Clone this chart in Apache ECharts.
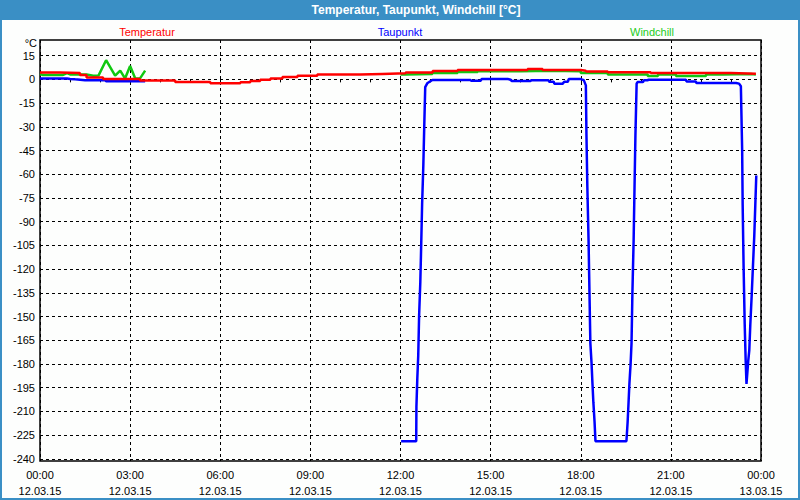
<!DOCTYPE html>
<html>
<head>
<meta charset="utf-8">
<script src="https://cdn.jsdelivr.net/npm/echarts@6/dist/echarts.min.js"></script>
<style>
html,body{margin:0;padding:0;background:#fdfefd;}
#c{width:800px;height:500px;}
</style>
</head>
<body>
<div id="c"></div>
<script>
// ---- text ----
const chartTitle = 'Temperatur, Taupunkt, Windchill [°C]';
const seriesNames = ['Temperatur', 'Taupunkt', 'Windchill'];
const unitLabel = '°C';
const xTickLabels = ['00:00\n12.03.15','03:00\n12.03.15','06:00\n12.03.15','09:00\n12.03.15','12:00\n12.03.15','15:00\n12.03.15','18:00\n12.03.15','21:00\n12.03.15','00:00\n13.03.15'];
const yTickValues = [15,0,-15,-30,-45,-60,-75,-90,-105,-120,-135,-150,-165,-180,-195,-210,-225,-240];

// ---- Temperatur (stepped) : hours since 00:00, °C ----
const tempHours  = [0,0.67,1.33,1.55,2.1,3.33,4.5,5.67,6.67,7.0,7.33,7.67,8.07,8.57,9.23,10.67,11.4,12.17,13.07,13.9,16.23,16.73,18.0,18.17,18.9,20.33,23.0,23.83];
const tempValues = [4.3,4.0,2.7,1.2,0.3,-0.7,-1.7,-2.4,-1.9,-1.1,-0.2,0.6,1.5,2.3,3.0,3.4,3.8,4.4,5.3,5.9,6.5,5.9,5.5,5.0,4.5,4.0,3.6,3.6];

// ---- Taupunkt ----
const dewEarlyHours  = [0,0.9,1.0,1.17,1.5,2.17,2.2,3.5];
const dewEarlyValues = [0.6,0.6,0.3,0.0,-0.5,-0.5,-1.2,-1.2];
const dewLateHours  = [12.02,12.523,12.53,12.56,12.59,12.62,12.66,12.69,12.72,12.76,12.79,12.823,12.89,13.06,14.33,14.35,14.67,14.7,15.57,15.67,15.7,16.33,16.35,16.93,16.95,17.1,17.12,17.4,17.45,17.57,17.6,18.0,18.1,18.17,18.19,18.22,18.26,18.29,18.32,18.36,18.39,18.42,18.46,18.49,19.52,19.56,19.59,19.62,19.66,19.69,19.72,19.76,19.79,19.82,19.86,19.89,20.07,20.1,20.23,20.25,21.5,21.52,21.83,21.85,23.17,23.27,23.33,23.373,23.39,23.42,23.457,23.49,23.517,23.533,23.577,23.61,23.643,23.69,23.733,23.777,23.81,23.843];
const dewLateValues = [-228.9,-228.9,-207,-189,-175,-149,-128,-104,-78.5,-54.4,-30.2,-4.9,-2.5,-0.4,-0.4,-0.8,-0.8,0.2,0.2,-0.2,-1.1,-1.1,-0.6,-0.6,-1.5,-1.5,-2.7,-2.7,-1.5,-1.5,0.2,0.2,-0.5,-3.8,-35.4,-68.2,-101.9,-134.6,-167,-179.7,-192.4,-204.2,-216.9,-228.9,-228.9,-216.9,-204.9,-192.4,-179.7,-167,-134.6,-101.9,-68.2,-35.4,-2.7,-1.7,-1.7,-0.6,-0.6,-0.2,-0.2,-1.3,-1.3,-2.3,-2.3,-2.7,-4.4,-44.9,-79.7,-117.7,-154.6,-177.8,-192.6,-192.6,-177.8,-171.5,-155.7,-136.7,-117.7,-98.7,-79.7,-60.8];

// ---- Windchill ----
const chillEarlyHours  = [0,0.1,0.75,0.9,1.0,1.55,1.77,1.95,2.2,2.5,2.67,2.83,3.0,3.17,3.33,3.5];
const chillEarlyValues = [3.5,2.7,2.7,3.9,3.1,3.1,2.3,2.5,12.1,2.3,5.5,0.6,8.4,0.6,0.6,5.5];
const chillLateHours  = [12.0,12.17,13.06,13.9,14.57,16.0,17.0,18.0,18.9,20.23,20.57,21.17,22.17,22.73,23.67,23.83];
const chillLateValues = [3.0,3.4,4.0,4.6,5.1,5.5,5.1,4.0,3.0,2.1,3.0,2.1,3.0,3.4,3.0,3.0];

const FONT = 'Liberation Sans';
const RED = '#ff0000', BLUE = '#0000ff', GREEN = '#10c810';

function pairs(h, v) { return h.map((x, i) => [x, v[i]]); }
function lineSeries(name, data, color, step, z) {
  return {
    name: name, type: 'line', data: data, step: step || false,
    showSymbol: false, symbol: 'none', z: z,
    lineStyle: { color: color, width: 2.5 }, itemStyle: { color: color },
    animation: false, clip: true
  };
}

const chart = echarts.init(document.getElementById('c'), null, { renderer: 'svg' });
chart.setOption({
  backgroundColor: '#fdfefd',
  animation: false,
  grid: { left: 40, right: 39, top: 40, bottom: 39, show: true, borderColor: '#000', borderWidth: 1.5, backgroundColor: 'transparent' },
  xAxis: {
    type: 'value', min: 0, max: 24, interval: 3,
    axisLine: { show: false },
    axisTick: { show: true, length: 4, lineStyle: { color: '#000' } },
    minorTick: { show: true, splitNumber: 3, length: 3, lineStyle: { color: '#000' } },
    splitLine: { show: true, lineStyle: { color: '#000', type: [3, 3], width: 1 } },
    axisLabel: {
      formatter: v => xTickLabels[Math.round(v / 3)],
      fontFamily: FONT, fontSize: 11, color: '#000', lineHeight: 16, margin: 6
    }
  },
  yAxis: {
    type: 'value', min: -241.4, max: 24.9,
    axisLine: { show: false },
    axisTick: { show: false, customValues: yTickValues },
    axisLabel: { customValues: yTickValues, fontFamily: FONT, fontSize: 11, color: '#000', margin: 5 },
    splitLine: { show: true, lineStyle: { color: '#000', type: [3, 3], width: 1 } }
  },
  graphic: [
    { type: 'rect', shape: { x: 0, y: 0, width: 800, height: 20 }, style: { fill: '#3a8fc5' }, silent: true },
    { type: 'rect', shape: { x: 0, y: 0, width: 2, height: 500 }, style: { fill: '#3a8fc5' }, silent: true },
    { type: 'rect', shape: { x: 798, y: 0, width: 2, height: 500 }, style: { fill: '#3a8fc5' }, silent: true },
    { type: 'rect', shape: { x: 0, y: 498, width: 800, height: 2 }, style: { fill: '#3a8fc5' }, silent: true },
    { type: 'text', x: 416, y: 10, style: { text: chartTitle, fill: '#ffffff', font: 'bold 12px "' + FONT + '"', textAlign: 'center', textVerticalAlign: 'middle' } },
    { type: 'text', x: 147, y: 32, style: { text: seriesNames[0], fill: RED, font: '11px "' + FONT + '"', textAlign: 'center', textVerticalAlign: 'middle' } },
    { type: 'text', x: 400, y: 32, style: { text: seriesNames[1], fill: BLUE, font: '11px "' + FONT + '"', textAlign: 'center', textVerticalAlign: 'middle' } },
    { type: 'text', x: 652, y: 32, style: { text: seriesNames[2], fill: '#22cc22', font: '11px "' + FONT + '"', textAlign: 'center', textVerticalAlign: 'middle' } },
    { type: 'text', x: 37, y: 43, style: { text: unitLabel, fill: '#000', font: '11px "' + FONT + '"', textAlign: 'right', textVerticalAlign: 'middle' } }
  ],
  series: [
    lineSeries(seriesNames[1], pairs(dewEarlyHours, dewEarlyValues), BLUE, false, 2),
    lineSeries(seriesNames[1], pairs(dewLateHours, dewLateValues), BLUE, false, 2),
    lineSeries(seriesNames[2], pairs(chillEarlyHours, chillEarlyValues), GREEN, false, 3),
    lineSeries(seriesNames[2], pairs(chillLateHours, chillLateValues), GREEN, 'end', 3),
    lineSeries(seriesNames[0], pairs(tempHours, tempValues), RED, 'end', 4)
  ]
});
</script>
</body>
</html>
